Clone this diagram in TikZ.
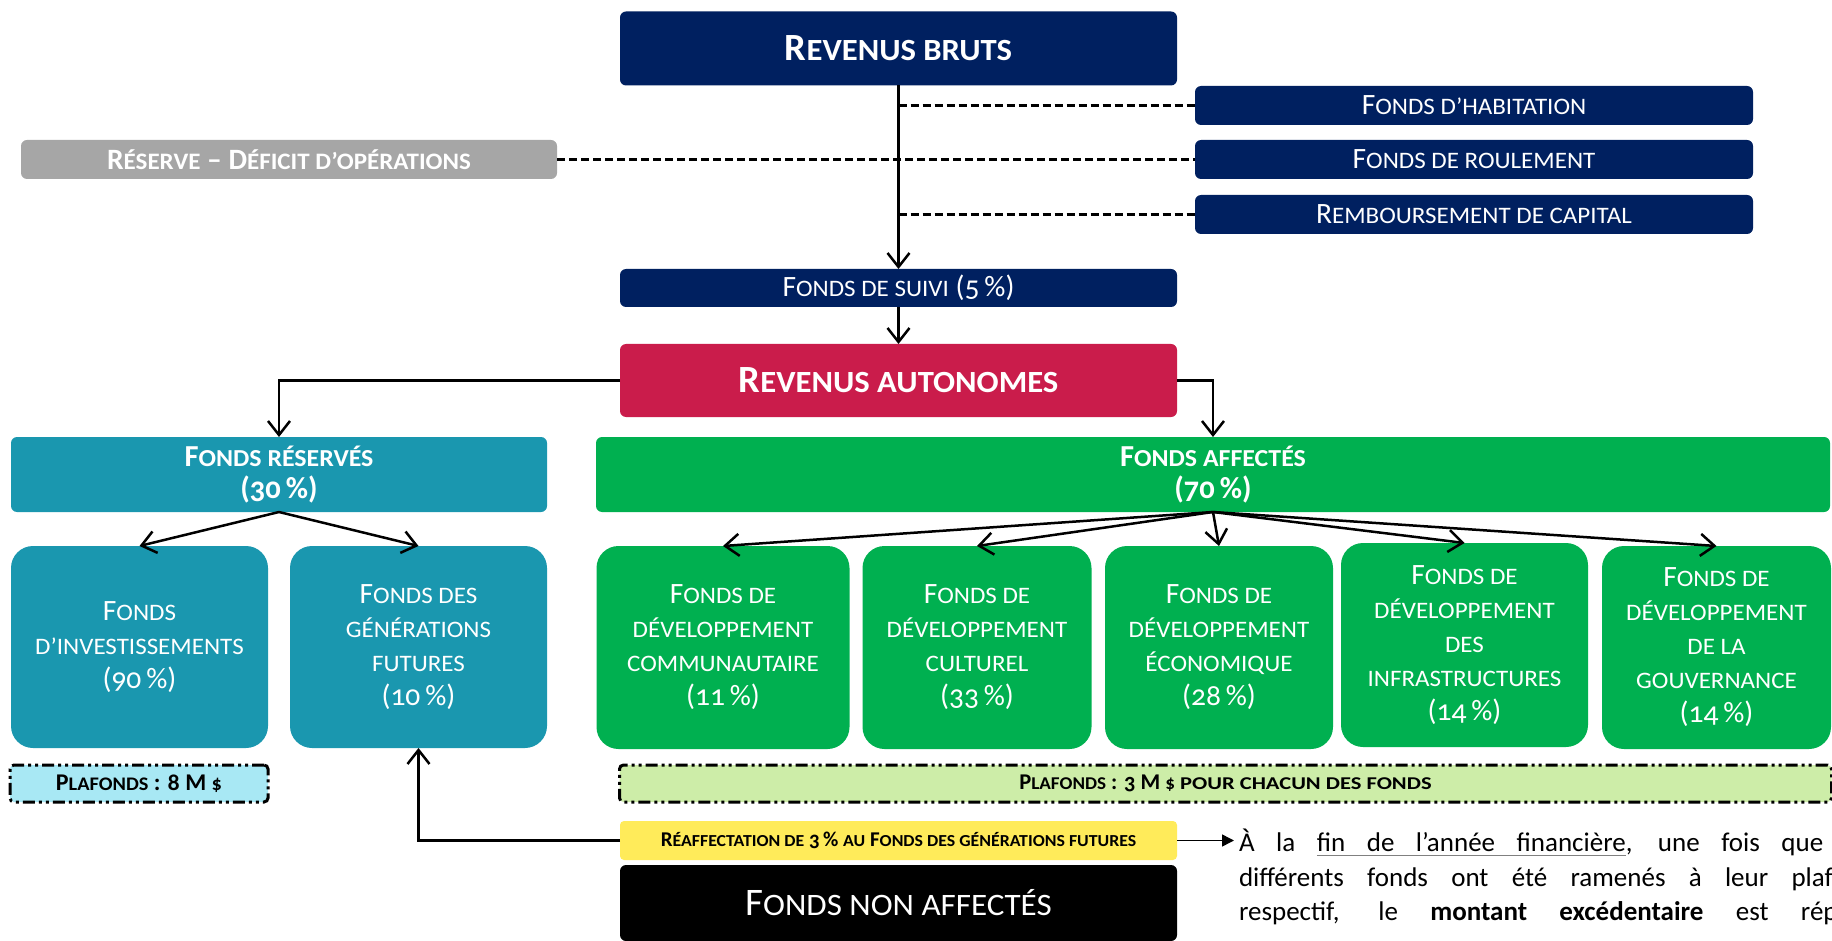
\documentclass[tikz,border=0pt]{standalone}
\usepackage{fontspec}
\usepackage{graphicx}
\setmainfont{Carlito}[Numbers=OldStyle]
\usetikzlibrary{arrows.meta}
\definecolor{navybox}{RGB}{0,32,96}
\definecolor{greybox}{RGB}{166,166,166}
\definecolor{crimsonbox}{RGB}{202,28,75}
\definecolor{tealbox}{RGB}{26,151,175}
\definecolor{greenbox}{RGB}{0,176,80}
\definecolor{cyanlight}{RGB}{168,232,244}
\definecolor{greenlight}{RGB}{205,237,168}
\definecolor{yellowbox}{RGB}{255,235,90}
\newcommand\fbig{\fontsize{38.5}{44}\selectfont}
\newcommand\fmed{\fontsize{29.5}{34}\selectfont}
\newcommand\fsmall{\fontsize{22.5}{25}\selectfont}
\newcommand\fpara{\fontsize{27}{34.5}\selectfont}
\makeatletter
\newcommand\smc[1]{\scalebox{1.06}[1]{\fontsize{\dimexpr\f@size pt*4/5\relax}{\f@baselineskip}\selectfont\MakeUppercase{#1}}}
\makeatother
\newsavebox\ulbox
\newcommand\ulw[1]{\sbox\ulbox{#1}\rlap{\color{gray}\rule[-4.5pt]{\wd\ulbox}{1.2pt}}\usebox\ulbox}
\newcommand\ulsp{{\color{gray}\leaders\hrule height -3.3pt depth 4.5pt\hskip\fontdimen2\font plus \fontdimen3\font minus \fontdimen4\font}}
\begin{document}
\begin{tikzpicture}[x=1pt,y=-1pt,
  every node/.style={inner sep=0pt,outer sep=0pt},
  box/.style={rounded corners=6pt,text=white,align=center},
  tallbox/.style={rounded corners=22pt,text=white,align=center,font=\fmed,fill=#1},
  capbox/.style={rounded corners=4pt,draw=black,line width=3pt,
     dash pattern=on 12pt off 4pt on 3pt off 4pt on 3pt off 4pt,fill=#1,font=\fsmall\bfseries},
  arr/.style={line width=2.5pt,-{Straight Barb[length=14pt,width=22pt]}},
  dashline/.style={line width=2.5pt,dash pattern=on 8pt off 4pt}]
\useasboundingbox (0,0) rectangle (1832,941);
\clip (0,0) rectangle (1832,941);
% top
\node[box,fill=navybox,minimum width=557pt,minimum height=74pt,font=\fbig\bfseries] (bruts) at (898.5,48.5) {R\smc{evenus bruts}};
\node[box,fill=navybox,minimum width=558pt,minimum height=39pt,font=\fmed] (habitation) at (1474,105.5) {F\smc{onds d’habitation}};
\node[box,fill=navybox,minimum width=558pt,minimum height=39pt,font=\fmed] (roulement) at (1474,159.5) {F\smc{onds de roulement}};
\node[box,fill=navybox,minimum width=558pt,minimum height=39pt,font=\fmed] (rembours) at (1474,214.5) {R\smc{emboursement de capital}};
\node[box,fill=greybox,minimum width=536pt,minimum height=39pt,font=\fmed\bfseries] (reserve) at (289,159.5) {R\smc{éserve} – D\smc{éficit d’opérations}};
\node[box,fill=navybox,minimum width=557pt,minimum height=38pt,font=\fmed] (suivi) at (898.5,288) {F\smc{onds de suivi} (5\,\%)};
\node[box,fill=crimsonbox,minimum width=557pt,minimum height=73pt,font=\fbig\bfseries] (autonomes) at (898.5,380.5) {R\smc{evenus autonomes}};
% second level
\node[box,fill=tealbox,minimum width=536pt,minimum height=75pt,font=\fontsize{30.5}{32}\selectfont\bfseries] (reserves) at (279,474.5) {F\smc{onds réservés}\\(30\,\%)};
\node[box,fill=greenbox,minimum width=1234pt,minimum height=75pt,font=\fontsize{30.5}{32}\selectfont\bfseries] (affectes) at (1213,474.5) {F\smc{onds affectés}\\(70\,\%)};
% tall boxes
\node[tallbox=tealbox,minimum width=257pt,minimum height=202pt] (invest) at (139.5,647) {F\smc{onds}\\\smc{d’investissements}\\(90\,\%)};
\node[tallbox=tealbox,minimum width=257pt,minimum height=202pt] (gener) at (418.5,647) {F\smc{onds des}\\\smc{générations}\\\smc{futures}\\(10\,\%)};
\node[tallbox=greenbox,minimum width=253pt,minimum height=203pt] (comm) at (723,647.5) {F\smc{onds de}\\\smc{développement}\\\smc{communautaire}\\(11\,\%)};
\node[tallbox=greenbox,minimum width=229pt,minimum height=203pt] (cult) at (977,647.5) {F\smc{onds de}\\\smc{développement}\\\smc{culturel}\\(33\,\%)};
\node[tallbox=greenbox,minimum width=228pt,minimum height=203pt] (econ) at (1219,647.5) {F\smc{onds de}\\\smc{développement}\\\smc{économique}\\(28\,\%)};
\node[tallbox=greenbox,minimum width=247pt,minimum height=204pt] (infra) at (1464.5,645) {F\smc{onds de}\\\smc{développement}\\\smc{des}\\\smc{infrastructures}\\(14\,\%)};
\node[tallbox=greenbox,minimum width=229pt,minimum height=203pt] (gouv) at (1716.5,647.5) {F\smc{onds de}\\\smc{développement}\\\smc{de la}\\\smc{gouvernance}\\(14\,\%)};
% caps
\node[capbox=cyanlight,minimum width=258pt,minimum height=37pt,font=\fontsize{24}{26}\selectfont\bfseries] (plaf8) at (139,783.5) {P\smc{lafonds} : 8 M \smc{\$}};
\node[capbox=greenlight,minimum width=1212pt,minimum height=37pt] (plaf3) at (1225.5,783.5) {P\smc{lafonds} : 3 M \smc{\$} \scalebox{1.18}[1]{\smc{pour chacun des fonds}}};
% bottom
\node[box,rounded corners=4pt,fill=yellowbox,text=black,minimum width=557pt,minimum height=39pt,font=\fontsize{21}{24}\selectfont\bfseries] (reaff) at (898.5,840.5) {R\smc{éaffectation de} 3\,\% \smc{au} F\smc{onds des générations futures}};
\node[box,fill=black,minimum width=557pt,minimum height=76pt,font=\fontsize{39}{44}\selectfont] (nonaff) at (898.5,903) {F\smc{onds non affectés}};
\node[anchor=north west,text width=636pt,align=justify,font=\fpara] (para) at (1239,829) {
À la \ulw{fin}\ulsp\ulw{de}\ulsp\ulw{l’année}\ulsp\ulw{financière}, une fois que les\linebreak différents fonds ont été ramenés à leur plafond\linebreak respectif, le \textbf{montant excédentaire} est réparti\linebreak\null};
% connectors
\draw[arr] (bruts.south) -- (suivi.north);
\draw[dashline] (bruts.south |- habitation.west) -- (habitation.west);
\draw[dashline] (reserve.east) -- (roulement.west);
\draw[dashline] (bruts.south |- rembours.west) -- (rembours.west);
\draw[arr] (suivi.south) -- (autonomes.north);
\draw[arr] (autonomes.west) -| (reserves.north);
\draw[arr] (autonomes.east) -| (affectes.north);
\draw[arr] (reserves.south) -- (invest.north);
\draw[arr] (reserves.south) -- (gener.north);
\draw[arr] (affectes.south) -- (comm.north);
\draw[arr] (affectes.south) -- (cult.north);
\draw[arr] (affectes.south) -- (econ.north);
\draw[arr] (affectes.south) -- (infra.north);
\draw[arr] (affectes.south) -- (gouv.north);
\draw[arr] (reaff.west) -| (gener.south);
\draw[line width=1.5pt,-{Triangle[length=12pt,width=12pt]}] (reaff.east) -- ([xshift=-5pt]reaff.east -| para.west);
\end{tikzpicture}
\end{document}
